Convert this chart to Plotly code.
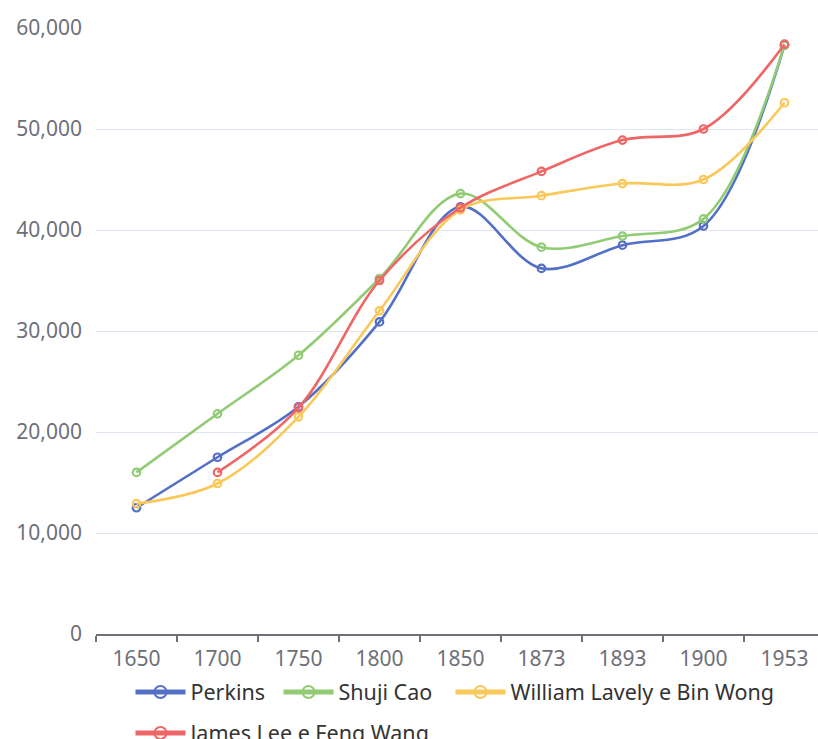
import plotly.graph_objects as go

years = ["1650", "1700", "1750", "1800", "1850", "1873", "1893", "1900", "1953"]
perkins = [12500, 17500, 22500, 30900, 42300, 36200, 38500, 40400, 58300]
shuji_cao = [16000, 21800, 27600, 35200, 43600, 38300, 39400, 41100, 58300]
lavely_wong = [12900, 14900, 21500, 32000, 42000, 43400, 44600, 45000, 52600]
lee_wang = [None, 16000, 22400, 35000, 42200, 45800, 48900, 50000, 58400]

names = ["Perkins", "Shuji Cao", "William Lavely e Bin Wong", "James Lee e Feng Wang"]
series = [perkins, shuji_cao, lavely_wong, lee_wang]
colors = ["#5470c6", "#91cc75", "#fac858", "#ee6666"]
legend_ids = ["legend", "legend2", "legend3", "legend4"]
# legend placement (container fractions)
legend_x = [0.1595, 0.3405, 0.5507, 0.1595]
legend_y = [0.0636, 0.0636, 0.0636, 0.0081]

FONT = "Noto Sans"

fig = go.Figure()
for name, vals, col, lid in zip(names, series, colors, legend_ids):
    fig.add_trace(go.Scatter(
        x=years, y=vals, name=name, mode="lines+markers", legend=lid,
        line=dict(color=col, width=2.6, shape="spline", smoothing=1.0),
        marker=dict(symbol="circle-open", size=7.5, color=col, line=dict(width=2.2, color=col)),
        connectgaps=False,
    ))

legend_common = dict(
    orientation="h", xref="container", yref="container",
    xanchor="left", yanchor="middle",
    font=dict(family=FONT, size=21.5, color="#333333"),
    itemwidth=50, itemsizing="constant", bgcolor="rgba(0,0,0,0)",
)
layout_legends = {}
for lid, lx, ly in zip(legend_ids, legend_x, legend_y):
    layout_legends[lid] = dict(legend_common, x=lx, y=ly)

fig.update_layout(
    width=818, height=739,
    margin=dict(l=96, r=0, t=28, b=105),
    plot_bgcolor="white", paper_bgcolor="white",
    font=dict(family=FONT, size=21, color="#6e7079"),
    showlegend=True,
    **layout_legends,
)
fig.update_xaxes(
    type="category", range=[-0.5, 8.414], automargin=False,
    showline=True, linecolor="#6e7079", linewidth=1.5,
    ticks="outside", tickson="boundaries", ticklen=6, tickcolor="#6e7079", tickwidth=1.5,
    ticklabelstandoff=5,
    showgrid=False, tickfont=dict(family=FONT, size=21, color="#6e7079"),
)
fig.update_yaxes(
    range=[0, 60000], tickvals=[0, 10000, 20000, 30000, 40000, 50000, 60000],
    tickformat=",", showgrid=True, gridcolor="#e0e6f1", gridwidth=1,
    zeroline=False, showline=False, ticks="", automargin=False,
    ticklabelstandoff=13,
    tickfont=dict(family=FONT, size=21, color="#6e7079"),
)

fig.write_html(
    "out.html",
    config={"displayModeBar": False},
    post_script="document.body.style.margin='0';document.body.style.overflow='hidden';",
)
